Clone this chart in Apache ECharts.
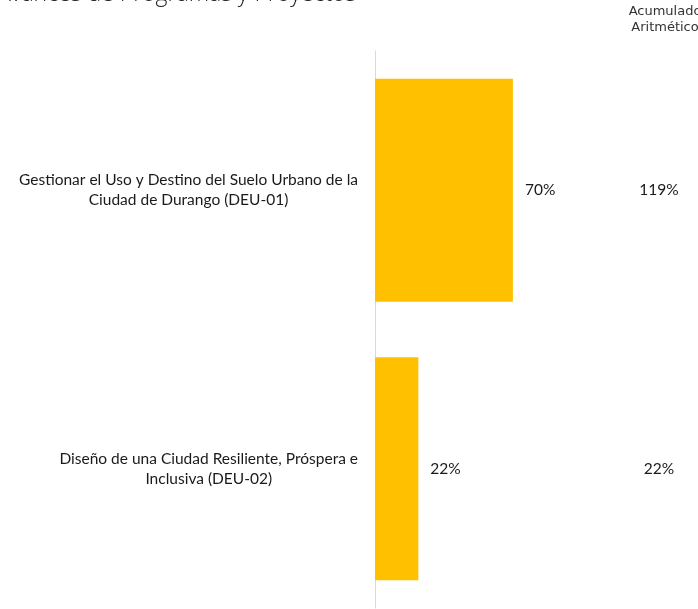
<!DOCTYPE html>
<html><head><meta charset="utf-8">
<script src="https://cdn.jsdelivr.net/npm/echarts@6/dist/echarts.min.js"></script>
<style>html,body{margin:0;padding:0;background:#fff}#c{width:698px;height:609px}</style>
</head><body><div id="c"></div>
<script>
const categories = [
  "Gestionar el Uso y Destino del Suelo Urbano de la\nCiudad de Durango (DEU-01)",
  "Diseño de una Ciudad Resiliente, Próspera e\nInclusiva (DEU-02)"
];
const avance = [70, 22];
const acumulado = ["119%", "22%"];
const titleText = "Avances de Programas y Proyectos";
const acumHeader = "Acumulado\nAritmético";

// ECharts category axis on y goes bottom-to-top; reverse for top-to-bottom order
const cats = categories.slice().reverse();
const vals = avance.slice().reverse();
const acc = acumulado.slice().reverse();

const chart = echarts.init(document.getElementById('c'));
chart.setOption({
  animation: false,
  title: [
    { text: titleText, left: -8, top: -22,
      textStyle: { fontFamily: 'Open Sans', fontWeight: 300, fontSize: 23, color: '#222' } },
    { text: acumHeader, left: 665, top: 4, padding: 0, textAlign: 'center',
      textStyle: { fontFamily: 'DejaVu Sans', fontWeight: 'normal', fontSize: 13, lineHeight: 16, color: '#333' } }
  ],
  grid: { left: 375, top: 51, width: 197, height: 557, containLabel: false },
  xAxis: { type: 'value', min: 0, max: 100, show: false },
  yAxis: [
    { type: 'category', data: cats, position: 'left',
      axisLine: { show: true, lineStyle: { color: '#d9d9d9', width: 1 } },
      axisTick: { show: false },
      axisLabel: {
        margin: 17, fontFamily: 'Lato', fontSize: 15.5, color: '#1a1a1a', lineHeight: 20,
        formatter: v => v.split('\n').map(l => '{a|' + l + '}').join('\n'),
        rich: { a: { align: 'center', fontFamily: 'Lato', fontSize: 15.5, color: '#1a1a1a', lineHeight: 20 } }
      } },
    { type: 'category', data: cats, position: 'right',
      axisLine: { show: false }, axisTick: { show: false },
      axisLabel: { margin: 87, align: 'center', fontFamily: 'Lato', fontSize: 15.5, color: '#1a1a1a',
        formatter: (v, i) => acc[i] } }
  ],
  series: [{
    type: 'bar', data: vals, yAxisIndex: 0, barCategoryGap: '20%',
    itemStyle: { color: '#FFC000' },
    label: { show: true, position: 'right', distance: 12, formatter: '{c}%',
      fontFamily: 'Lato', fontSize: 15.5, color: '#1a1a1a' }
  }]
});
</script></body></html>
